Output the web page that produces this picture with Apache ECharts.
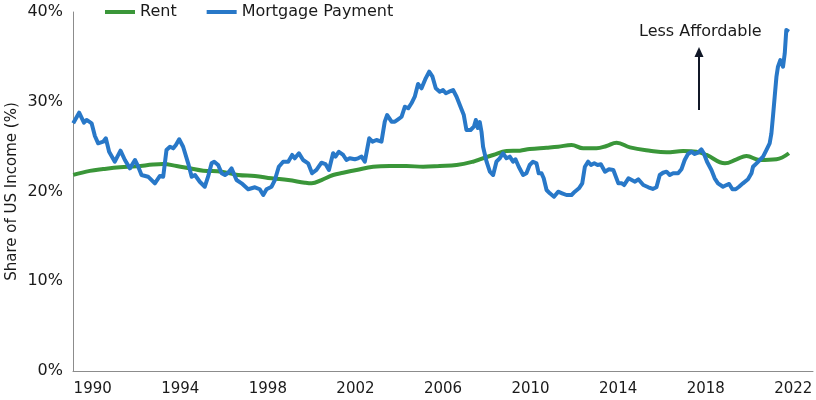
<!DOCTYPE html>
<html>
<head>
<meta charset="utf-8">
<script src="https://cdn.jsdelivr.net/npm/echarts@6/dist/echarts.min.js"></script>
<style>
  html, body { margin: 0; padding: 0; background: #fff; }
  #chart { width: 816px; height: 400px; }
</style>
</head>
<body>
<div id="chart"></div>
<script>
// x = decimal year, values = share of US income (%)
let mortgageYears = [
  1989.11, 1989.38, 1989.60, 1989.72, 1989.84, 1989.95, 1990.10, 1990.25, 1990.48, 1990.60,
  1990.75, 1991.01, 1991.27, 1991.47, 1991.70, 1991.93, 1992.08, 1992.23, 1992.53, 1992.84,
  1993.07, 1993.22, 1993.37, 1993.53, 1993.68, 1993.80, 1993.95, 1994.13, 1994.36, 1994.52,
  1994.67, 1994.89, 1995.12, 1995.27, 1995.43, 1995.55, 1995.73, 1995.89, 1996.04, 1996.19,
  1996.34, 1996.57, 1996.80, 1997.10, 1997.41, 1997.63, 1997.79, 1997.94, 1998.17, 1998.32,
  1998.50, 1998.70, 1998.93, 1999.11, 1999.23, 1999.42, 1999.61, 1999.84, 2000.02, 2000.22,
  2000.45, 2000.63, 2000.79, 2000.98, 2001.09, 2001.24, 2001.44, 2001.59, 2001.74, 2001.97,
  2002.12, 2002.28, 2002.43, 2002.51, 2002.63, 2002.78, 2002.96, 2003.19, 2003.34, 2003.45,
  2003.65, 2003.80, 2003.95, 2004.11, 2004.26, 2004.41, 2004.56, 2004.71, 2004.86, 2005.02,
  2005.21, 2005.37, 2005.52, 2005.67, 2005.85, 2006.00, 2006.13, 2006.28, 2006.46, 2006.62,
  2006.80, 2006.95, 2007.07, 2007.26, 2007.41, 2007.50, 2007.59, 2007.68, 2007.76, 2007.83,
  2007.99, 2008.14, 2008.29, 2008.44, 2008.59, 2008.74, 2008.90, 2009.05, 2009.20, 2009.31,
  2009.46, 2009.66, 2009.81, 2009.96, 2010.11, 2010.27, 2010.37, 2010.50, 2010.60, 2010.73,
  2010.88, 2011.07, 2011.26, 2011.44, 2011.64, 2011.87, 2012.02, 2012.21, 2012.36, 2012.48,
  2012.63, 2012.76, 2012.91, 2013.06, 2013.21, 2013.40, 2013.58, 2013.78, 2013.86, 2014.01,
  2014.17, 2014.27, 2014.47, 2014.62, 2014.77, 2014.92, 2015.15, 2015.38, 2015.58, 2015.75,
  2015.90, 2016.05, 2016.21, 2016.36, 2016.51, 2016.74, 2016.89, 2017.04, 2017.19, 2017.35,
  2017.50, 2017.65, 2017.80, 2017.91, 2018.06, 2018.26, 2018.41, 2018.56, 2018.79, 2018.95,
  2019.07, 2019.22, 2019.37, 2019.52, 2019.70, 2019.93, 2020.09, 2020.16, 2020.32, 2020.47,
  2020.62, 2020.77, 2020.92, 2021.00, 2021.07, 2021.15, 2021.23, 2021.30, 2021.41, 2021.53,
  2021.61, 2021.68, 2021.80
];
let mortgageVals = [
  27.60, 28.78, 27.67, 27.97, 27.78, 27.60, 26.18, 25.37, 25.55, 25.93,
  24.43, 23.32, 24.55, 23.51, 22.58, 23.51, 22.76, 21.84, 21.65, 20.91,
  21.73, 21.65, 24.62, 24.99, 24.81, 25.18, 25.82, 24.99, 23.14, 21.65,
  21.84, 21.09, 20.53, 21.65, 23.14, 23.32, 22.95, 22.03, 21.84, 22.09,
  22.58, 21.28, 20.91, 20.25, 20.47, 20.25, 19.61, 20.25, 20.53, 21.28,
  22.76, 23.32, 23.32, 24.07, 23.70, 24.26, 23.51, 23.14, 22.03, 22.40,
  23.21, 23.06, 22.40, 24.26, 23.88, 24.43, 24.07, 23.51, 23.70, 23.59,
  23.70, 23.88, 23.32, 23.14, 25.93, 25.55, 25.74, 25.55, 27.78, 28.52,
  27.78, 27.78, 28.04, 28.33, 29.45, 29.27, 29.83, 30.56, 31.98, 31.50,
  32.61, 33.35, 32.79, 31.50, 31.12, 31.31, 30.94, 31.12, 31.31, 30.56,
  29.45, 28.52, 26.85, 26.85, 27.22, 27.97, 27.08, 27.74, 26.63, 24.99,
  23.32, 22.21, 21.84, 23.32, 23.70, 24.26, 23.70, 23.88, 23.32, 23.59,
  22.76, 21.84, 22.03, 22.95, 23.32, 23.14, 22.03, 22.03, 21.47, 20.17,
  19.80, 19.42, 19.98, 19.80, 19.61, 19.61, 19.98, 20.36, 20.91, 22.76,
  23.32, 22.95, 23.14, 22.95, 23.03, 22.21, 22.47, 22.40, 22.40, 20.91,
  20.91, 20.72, 21.47, 21.28, 21.09, 21.36, 20.72, 20.47, 20.28, 20.47,
  21.84, 22.09, 22.21, 21.84, 22.03, 22.03, 22.47, 23.51, 24.18, 24.43,
  24.18, 24.32, 24.70, 24.26, 23.32, 22.40, 21.47, 20.91, 20.53, 20.72,
  20.84, 20.25, 20.25, 20.53, 20.91, 21.36, 22.03, 22.76, 23.14, 23.51,
  23.88, 24.62, 25.37, 26.48, 28.33, 30.56, 32.79, 33.91, 34.65, 33.91,
  35.40, 37.99, 37.81
];

let rentYears = [
  1989.11, 1989.87, 1990.48, 1991.24, 1992.00, 1992.76, 1993.22, 1993.83, 1994.44, 1995.05,
  1995.89, 1996.64, 1997.41, 1998.17, 1998.93, 1999.69, 2000.00, 2000.45, 2000.98, 2001.44,
  2002.05, 2002.81, 2003.57, 2004.33, 2005.09, 2005.85, 2006.62, 2007.37, 2007.68, 2008.29,
  2008.90, 2009.51, 2009.96, 2010.73, 2011.26, 2011.87, 2012.40, 2013.01, 2013.47, 2013.93,
  2014.54, 2015.45, 2016.21, 2016.97, 2017.58, 2018.04, 2018.88, 2019.41, 2019.86, 2020.47,
  2021.23, 2021.80
];
let rentVals = [
  21.85, 22.30, 22.50, 22.70, 22.80, 23.00, 23.06, 22.84, 22.58, 22.32,
  22.21, 21.84, 21.73, 21.47, 21.28, 20.98, 20.91, 21.28, 21.84, 22.09,
  22.40, 22.76, 22.84, 22.84, 22.76, 22.84, 22.95, 23.32, 23.59, 24.07,
  24.51, 24.55, 24.74, 24.88, 24.99, 25.18, 24.81, 24.81, 25.07, 25.44,
  24.92, 24.55, 24.37, 24.51, 24.43, 24.07, 23.14, 23.59, 23.96, 23.51,
  23.59, 24.26
];

let yearTicks = [1990, 1994, 1998, 2002, 2006, 2010, 2014, 2018, 2022];

let seriesNames = ['Rent', 'Mortgage Payment'];
let seriesColors = ['#3a9639', '#2878c8'];

let myChart = echarts.init(document.getElementById('chart'), null, { renderer: 'canvas' });

function pairs(xs, ys) {
    let out = [];
    for (let i = 0; i < xs.length; i++) {
        out.push([xs[i], ys[i]]);
    }
    return out;
}

let font = 'DejaVu Sans';

let option = {
    animation: false,
    backgroundColor: '#ffffff',
    textStyle: { fontFamily: font, color: '#1a1a1a' },
    grid: { left: 73, right: 3, top: 12, bottom: 29, containLabel: false, outerBoundsMode: 'none' },
    legend: {
        left: 100,
        top: -1,
        icon: 'rect',
        itemWidth: 30,
        itemHeight: 4,
        itemGap: 30,
        data: seriesNames,
        textStyle: { fontFamily: font, fontSize: 16, color: '#1a1a1a' }
    },
    xAxis: {
        type: 'value',
        min: 1989.1,
        max: 2022.9,
        axisLine: { show: true, lineStyle: { color: '#8c8c8c', width: 1 } },
        axisTick: { show: false },
        splitLine: { show: false },
        axisLabel: {
            customValues: yearTicks,
            fontFamily: font,
            fontSize: 15,
            color: '#1a1a1a',
            margin: 11,
            formatter: function (v) { return String(v); }
        }
    },
    yAxis: {
        type: 'value',
        min: 0,
        max: 40,
        interval: 10,
        name: 'Share of US Income (%)',
        nameLocation: 'middle',
        nameGap: 53,
        nameMoveOverlap: false,
        nameTextStyle: { fontFamily: font, fontSize: 15, color: '#1a1a1a' },
        axisLine: { show: true, lineStyle: { color: '#8c8c8c', width: 1 } },
        axisTick: { show: false },
        splitLine: { show: false },
        axisLabel: {
            fontFamily: font,
            fontSize: 16,
            color: '#1a1a1a',
            margin: 10,
            formatter: '{value}%'
        }
    },
    series: [
        {
            name: seriesNames[0],
            type: 'line',
            data: pairs(rentYears, rentVals),
            showSymbol: false,
            smooth: 0.4,
            lineStyle: { width: 4, color: seriesColors[0] },
            itemStyle: { color: seriesColors[0] },
            z: 2
        },
        {
            name: seriesNames[1],
            type: 'line',
            data: pairs(mortgageYears, mortgageVals),
            showSymbol: false,
            lineStyle: { width: 4, color: seriesColors[1], join: 'round' },
            itemStyle: { color: seriesColors[1] },
            z: 3
        }
    ],
    graphic: [
        {
            type: 'text',
            left: 639,
            top: 24,
            style: { text: 'Less Affordable', fontFamily: font, fontSize: 16, fill: '#1a1a1a' }
        },
        {
            type: 'line',
            shape: { x1: 699, y1: 110, x2: 699, y2: 54 },
            style: { stroke: '#111827', lineWidth: 2 }
        },
        {
            type: 'polygon',
            shape: { points: [[699, 47], [694.5, 57], [703.5, 57]] },
            style: { fill: '#111827' }
        }
    ]
};

myChart.setOption(option);
</script>
</body>
</html>
